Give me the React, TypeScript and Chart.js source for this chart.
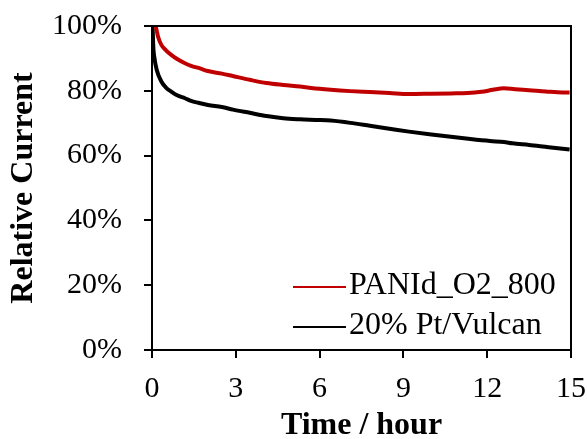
import React, { useEffect, useRef } from "react";
import { Chart, registerables } from "chart.js";

Chart.register(...registerables);

// Time (hours) and relative current (%) for each series
const panTime = [0.13, 0.17, 0.22, 0.34, 0.5, 0.7, 0.9, 1.18, 1.4, 1.72, 2.0, 2.5, 2.92, 3.5, 4.1, 4.7, 5.3, 6.0, 6.4, 7.1, 7.8, 8.5, 9.2, 10.0, 10.7, 11.3, 11.8, 12.2, 12.6, 13.0, 13.5, 14.1, 14.7, 14.95];
const panValue = [100, 98.5, 96.6, 94.1, 92.5, 91.0, 89.8, 88.5, 87.7, 86.9, 86.1, 85.3, 84.5, 83.4, 82.4, 81.8, 81.3, 80.6, 80.3, 79.9, 79.6, 79.3, 79.0, 79.1, 79.2, 79.3, 79.7, 80.3, 80.8, 80.5, 80.2, 79.8, 79.5, 79.5];

const ptTime = [0.02, 0.05, 0.08, 0.17, 0.34, 0.5, 0.7, 0.9, 1.18, 1.4, 1.66, 2.0, 2.5, 2.9, 3.5, 4.1, 4.7, 5.3, 6.0, 6.4, 7.1, 7.8, 8.5, 9.2, 10.0, 10.7, 11.4, 12.1, 12.6, 12.9, 13.5, 14.2, 14.95];
const ptValue = [100, 93, 90.5, 86.4, 82.8, 81.0, 79.7, 78.6, 77.7, 76.9, 76.3, 75.6, 75.0, 74.2, 73.2, 72.2, 71.5, 71.2, 71.0, 70.8, 70.1, 69.2, 68.3, 67.4, 66.5, 65.8, 65.1, 64.5, 64.2, 63.8, 63.3, 62.6, 61.9];

const seriesLabels = ["PANId_O2_800", "20% Pt/Vulcan"];
const seriesColors = ["#C00000", "#000000"];
const xTicks = [0, 3, 6, 9, 12, 15];
const yTicks = [0, 20, 40, 60, 80, 100];

const FONT = "'Liberation Serif', 'Times New Roman', serif";

const framePlugin = {
  id: "frame",
  afterDraw(chart: any) {
    const { ctx, chartArea } = chart;
    ctx.save();
    ctx.strokeStyle = "#000";
    ctx.lineWidth = 2;
    ctx.beginPath();
    ctx.moveTo(chartArea.left, chartArea.top);
    ctx.lineTo(chartArea.right, chartArea.top);
    ctx.lineTo(chartArea.right, chartArea.bottom);
    ctx.stroke();
    ctx.restore();
  },
};

const legendPlugin = {
  id: "insideLegend",
  afterDraw(chart: any) {
    const { ctx } = chart;
    const rows = [287, 327];
    ctx.save();
    ctx.font = `32px ${FONT}`;
    ctx.textBaseline = "middle";
    ctx.textAlign = "left";
    chart.data.datasets.forEach((ds: any, i: number) => {
      const y = rows[i];
      ctx.strokeStyle = ds.borderColor;
      ctx.lineWidth = 2;
      ctx.beginPath();
      ctx.moveTo(293, y);
      ctx.lineTo(346, y);
      ctx.stroke();
      ctx.fillStyle = "#000";
      ctx.fillText(ds.label, 349, y - 1);
    });
    ctx.restore();
  },
};

export default function App() {
  const ref = useRef<HTMLCanvasElement | null>(null);

  useEffect(() => {
    document.body.style.margin = "0";
    const canvas = ref.current;
    if (!canvas) return;
    const chart = new Chart(canvas, {
      type: "line",
      data: {
        datasets: [
          {
            label: seriesLabels[0],
            data: panTime.map((t, i) => ({ x: t, y: panValue[i] })),
            borderColor: seriesColors[0],
            backgroundColor: seriesColors[0],
            borderWidth: 4,
            pointRadius: 0,
            cubicInterpolationMode: "monotone",
          },
          {
            label: seriesLabels[1],
            data: ptTime.map((t, i) => ({ x: t, y: ptValue[i] })),
            borderColor: seriesColors[1],
            backgroundColor: seriesColors[1],
            borderWidth: 4,
            pointRadius: 0,
            cubicInterpolationMode: "monotone",
          },
        ],
      },
      options: {
        responsive: false,
        animation: false,
        layout: { padding: { top: 26, right: 16, bottom: 0, left: 0 } },
        plugins: { legend: { display: false }, tooltip: { enabled: false } },
        scales: {
          x: {
            type: "linear",
            min: 0,
            max: 15,
            afterFit(axis: any) {
              axis.height = 89;
              axis.paddingLeft = 0;
              axis.paddingRight = 0;
            },
            afterBuildTicks(axis: any) {
              axis.ticks = xTicks.map((v) => ({ value: v }));
            },
            ticks: {
              color: "#000",
              font: { family: FONT, size: 30, lineHeight: 1.2 },
              padding: 13,
              maxRotation: 0,
              autoSkip: false,
            },
            grid: {
              drawOnChartArea: false,
              drawTicks: true,
              tickLength: 8,
              color: "#000",
              lineWidth: 2,
            },
            border: { color: "#000", width: 2 },
            title: {
              display: true,
              text: "Time / hour",
              color: "#000",
              font: { family: FONT, size: 32, weight: "bold", lineHeight: 1 },
              padding: { top: 0, bottom: -3 },
            },
          },
          y: {
            min: 0,
            max: 100,
            afterFit(axis: any) {
              axis.width = 152;
              axis.paddingTop = 0;
              axis.paddingBottom = 0;
            },
            afterBuildTicks(axis: any) {
              axis.ticks = yTicks.map((v) => ({ value: v }));
            },
            ticks: {
              color: "#000",
              font: { family: FONT, size: 30, lineHeight: 1.2 },
              padding: 22,
              callback: (v: any) => `${v}%`,
            },
            grid: {
              drawOnChartArea: false,
              drawTicks: true,
              tickLength: 8,
              color: "#000",
              lineWidth: 2,
            },
            border: { color: "#000", width: 2 },
            title: {
              display: true,
              text: "Relative Current",
              color: "#000",
              font: { family: FONT, size: 32, weight: "bold", lineHeight: 1 },
              padding: { top: 8, bottom: 0 },
            },
          },
        },
      },
      plugins: [framePlugin, legendPlugin],
    });
    return () => chart.destroy();
  }, []);

  return (
    <div style={{ width: 587, height: 439 }}>
      <canvas ref={ref} width={587} height={439} style={{ display: "block" }} />
    </div>
  );
}
